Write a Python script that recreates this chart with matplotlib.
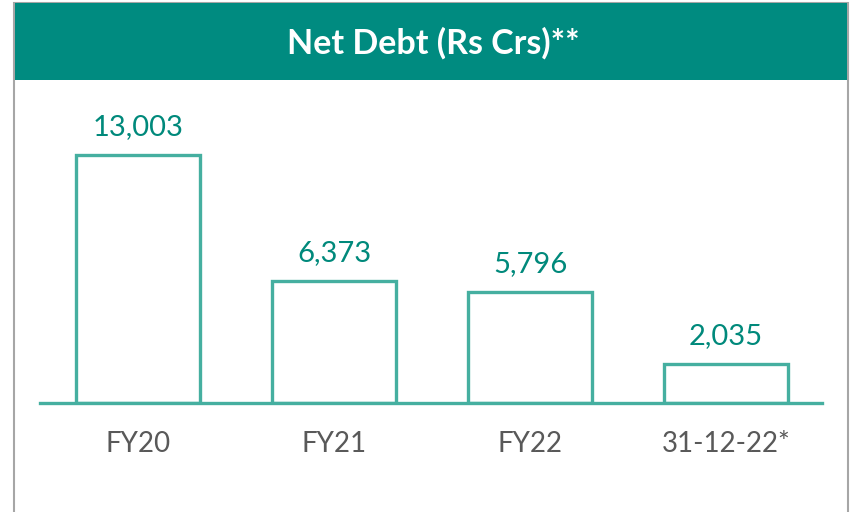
import matplotlib.pyplot as plt
from matplotlib.patches import Rectangle

categories = ["FY20", "FY21", "FY22", "31-12-22*"]
net_debt = [13003, 6373, 5796, 2035]
value_labels = ["13,003", "6,373", "5,796", "2,035"]
title = "Net Debt (Rs Crs)**"

header_teal = "#008B80"
bar_teal = "#45AFA0"
label_teal = "#00897B"
tick_grey = "#595959"

plt.rcParams['font.family'] = ['Lato', 'DejaVu Sans']

fig = plt.figure(figsize=(8.5, 5.12), dpi=100)

# outer frame and header band
fig.patches.append(Rectangle((14 / 850, -0.05), 834 / 850, 1.05 - 2.5 / 512,
                             transform=fig.transFigure, fill=False,
                             edgecolor="#A6A6A6", linewidth=1.5))
fig.patches.append(Rectangle((15 / 850, 432 / 512), 832 / 850, 77 / 512,
                             transform=fig.transFigure, facecolor=header_teal,
                             edgecolor="none"))
fig.text(433 / 850, 469 / 512, title, color="white", fontsize=24.5,
         fontweight="bold", ha="center", va="center")

ax = fig.add_axes([40 / 850, 109 / 512, 782 / 850, 323 / 512])
x = range(len(categories))
ax.bar(x, net_debt, width=0.633, facecolor="white", edgecolor=bar_teal,
       linewidth=2.4, zorder=2)
for xi, v, lab in zip(x, net_debt, value_labels):
    ax.text(xi, v + 800, lab, ha="center", va="bottom", color=label_teal,
            fontsize=21)

ax.set_xlim(-0.5, 3.49)
ax.set_ylim(0, 13003 * 323 / 248)
ax.set_xticks(list(x))
ax.set_xticklabels(categories, fontsize=20, color=tick_grey)
ax.tick_params(axis="x", length=0, pad=20)
ax.set_yticks([])
for s in ["top", "left", "right"]:
    ax.spines[s].set_visible(False)
ax.spines["bottom"].set_color(bar_teal)
ax.spines["bottom"].set_linewidth(2.4)
ax.spines["bottom"].set_zorder(3)
ax.patch.set_alpha(0)

fig.savefig("out.png", dpi=100)
